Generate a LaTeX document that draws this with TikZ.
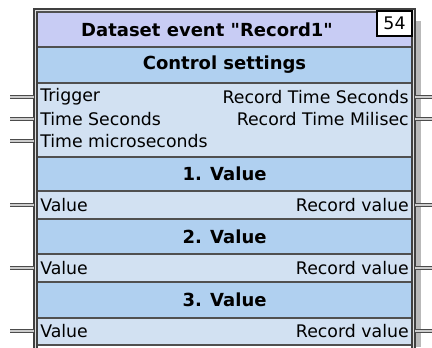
\documentclass[tikz,border=0pt]{standalone}
\usepackage{fontspec}
\setmainfont{DejaVu Sans}
\definecolor{titlecol}{HTML}{C8CCF4}
\definecolor{headcol}{HTML}{B0D0F0}
\definecolor{rowcol}{HTML}{D2E1F2}
\definecolor{linecol}{HTML}{505050}
\tikzset{
  band/.style={draw=linecol, line width=0.9pt},
  lbl/.style={inner sep=0.75pt, font=\fontsize{13}{15}\selectfont},
  hdr/.style={inner sep=0.75pt, font=\bfseries\fontsize{13.5}{15}\selectfont},
  pinline/.style={draw=black!70, line width=0.6pt, double=gray!40, double distance=1.6pt},
}
\begin{document}
\begin{tikzpicture}[x=0.75pt,y=0.75pt,yscale=-1]
\useasboundingbox (0,0) rectangle (432,347);

%Shadow
\fill[gray!55] (416,21) rectangle (421,347);

%Frame
\draw[fill=gray!25, draw=black!75, line width=0.8pt] (34,9) rectangle (415,360);
\draw[fill=white, draw=black!75, line width=0.8pt] (37,12) rectangle (412,360);
\coordinate (blkL) at (34,12);
\coordinate (blkR) at (415,12);

%Bands
\draw[band, fill=titlecol] (37,12) rectangle (412,47);
\draw[band, fill=headcol] (37,47) rectangle (412,83);
\draw[band, fill=rowcol] (37,83) rectangle (412,157);
\draw[band, fill=headcol] (37,157) rectangle (412,191);
\draw[band, fill=rowcol] (37,191) rectangle (412,219);
\draw[band, fill=headcol] (37,219) rectangle (412,254);
\draw[band, fill=rowcol] (37,254) rectangle (412,282);
\draw[band, fill=headcol] (37,282) rectangle (412,318);
\draw[band, fill=rowcol] (37,318) rectangle (412,345);
\draw[draw=black!75, line width=0.8pt] (37,12) -- (37,360) (412,12) -- (412,360);

%Block number
\draw[fill=white, draw=black, line width=0.8pt] (377,11) rectangle (412,36);
\node[lbl] (num) at (394.5,23.5) {54};

% Header Nodes
\node[hdr] (title) at (207,30) {Dataset event \textquotedbl Record1\textquotedbl};
\node[hdr] (ctrl) at (224.5,65) {Control settings};
\node[hdr] (head1) at (224.5,174) {1. Value};
\node[hdr] (head2) at (224.5,237) {2. Value};
\node[hdr] (head3) at (224.5,300) {3. Value};

% Text Node
\node[lbl, anchor=west] (trig) at (39,97) {Trigger};
% Text Node
\node[lbl, anchor=west] (tsec) at (39,119) {Time Seconds};
% Text Node
\node[lbl, anchor=west] (tmicro) at (39,141) {Time microseconds};
% Text Node
\node[lbl, anchor=east] (rsec) at (410,97) {Record Time Seconds};
% Text Node
\node[lbl, anchor=east] (rmili) at (410,119) {Record Time Milisec};
% Text Node
\node[lbl, anchor=west] (val1) at (39,205) {Value};
% Text Node
\node[lbl, anchor=east] (rval1) at (410,205) {Record value};
% Text Node
\node[lbl, anchor=west] (val2) at (39,268) {Value};
% Text Node
\node[lbl, anchor=east] (rval2) at (410,268) {Record value};
% Text Node
\node[lbl, anchor=west] (val3) at (39,331) {Value};
% Text Node
\node[lbl, anchor=east] (rval3) at (410,331) {Record value};

%Pin ends
\coordinate (inTrig) at (10,97);
\coordinate (inSec) at (10,119);
\coordinate (inMicro) at (10,141);
\coordinate (inVal1) at (10,205);
\coordinate (inVal2) at (10,268);
\coordinate (inVal3) at (10,331);
\coordinate (outSec) at (432,97);
\coordinate (outMili) at (432,119);
\coordinate (outVal1) at (432,205);
\coordinate (outVal2) at (432,268);
\coordinate (outVal3) at (432,331);

%Pins
\draw[pinline] (inTrig) -- (trig.west -| blkL);
\draw[pinline] (inSec) -- (tsec.west -| blkL);
\draw[pinline] (inMicro) -- (tmicro.west -| blkL);
\draw[pinline] (inVal1) -- (val1.west -| blkL);
\draw[pinline] (inVal2) -- (val2.west -| blkL);
\draw[pinline] (inVal3) -- (val3.west -| blkL);
\draw[pinline] (rsec.east -| blkR) -- (outSec);
\draw[pinline] (rmili.east -| blkR) -- (outMili);
\draw[pinline] (rval1.east -| blkR) -- (outVal1);
\draw[pinline] (rval2.east -| blkR) -- (outVal2);
\draw[pinline] (rval3.east -| blkR) -- (outVal3);

\end{tikzpicture}
\end{document}
